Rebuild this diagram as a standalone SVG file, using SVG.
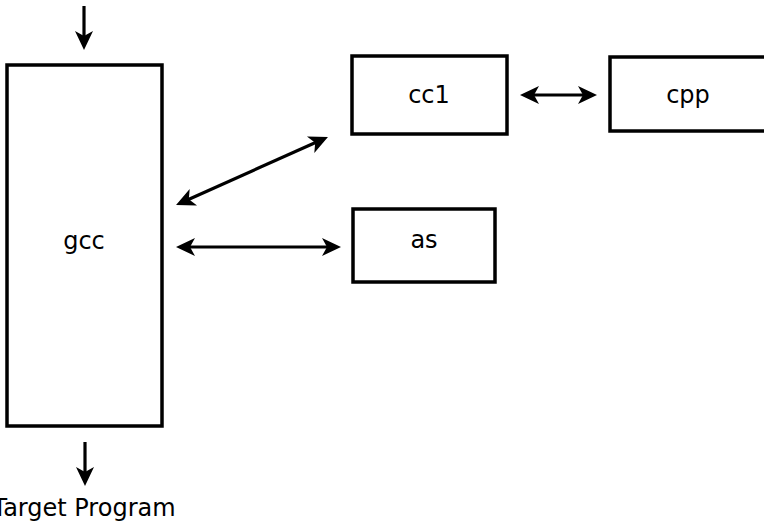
<svg xmlns="http://www.w3.org/2000/svg" width="764" height="524" viewBox="0 0 764 524">
<style>
.box{fill:#fff;stroke:#000;stroke-width:3.5}
.lbl{font-family:"DejaVu Sans",sans-serif;font-size:24px;fill:#000;text-anchor:middle}
.conn line{stroke:#000;stroke-width:3.2;fill:none}
</style>
<defs>
<marker id="ah" viewBox="-1 -10 21 20" markerUnits="userSpaceOnUse" markerWidth="21" markerHeight="20" refX="14" refY="0" orient="auto-start-reverse">
<path d="M0,-9 L19,0 L0,9 L5,0 Z" fill="#000"/>
</marker>
</defs>
<rect width="764" height="524" fill="#fff"/>
<g id="gcc"><rect class="box" x="7" y="65" width="155" height="361"/><text class="lbl" x="84" y="249">gcc</text></g>
<g id="cc1"><rect class="box" x="352" y="56" width="155" height="78"/><text class="lbl" x="429" y="103">cc1</text></g>
<g id="cpp"><rect class="box" x="610" y="57" width="156" height="74"/><text class="lbl" x="688" y="103">cpp</text></g>
<g id="as"><rect class="box" x="353" y="209" width="142" height="73"/><text class="lbl" x="424" y="248">as</text></g>
<g id="target"><text class="lbl" x="84" y="516">Target Program</text></g>
<g class="conn" id="connectors">
<line x1="84" y1="6" x2="84" y2="45" marker-end="url(#ah)"/>
<line x1="85" y1="442" x2="85" y2="481" marker-end="url(#ah)"/>
<line x1="180.6" y1="203" x2="323.4" y2="139" marker-start="url(#ah)" marker-end="url(#ah)"/>
<line x1="181" y1="247" x2="336" y2="247" marker-start="url(#ah)" marker-end="url(#ah)"/>
<line x1="525" y1="95" x2="592" y2="95" marker-start="url(#ah)" marker-end="url(#ah)"/>
</g>
</svg>
